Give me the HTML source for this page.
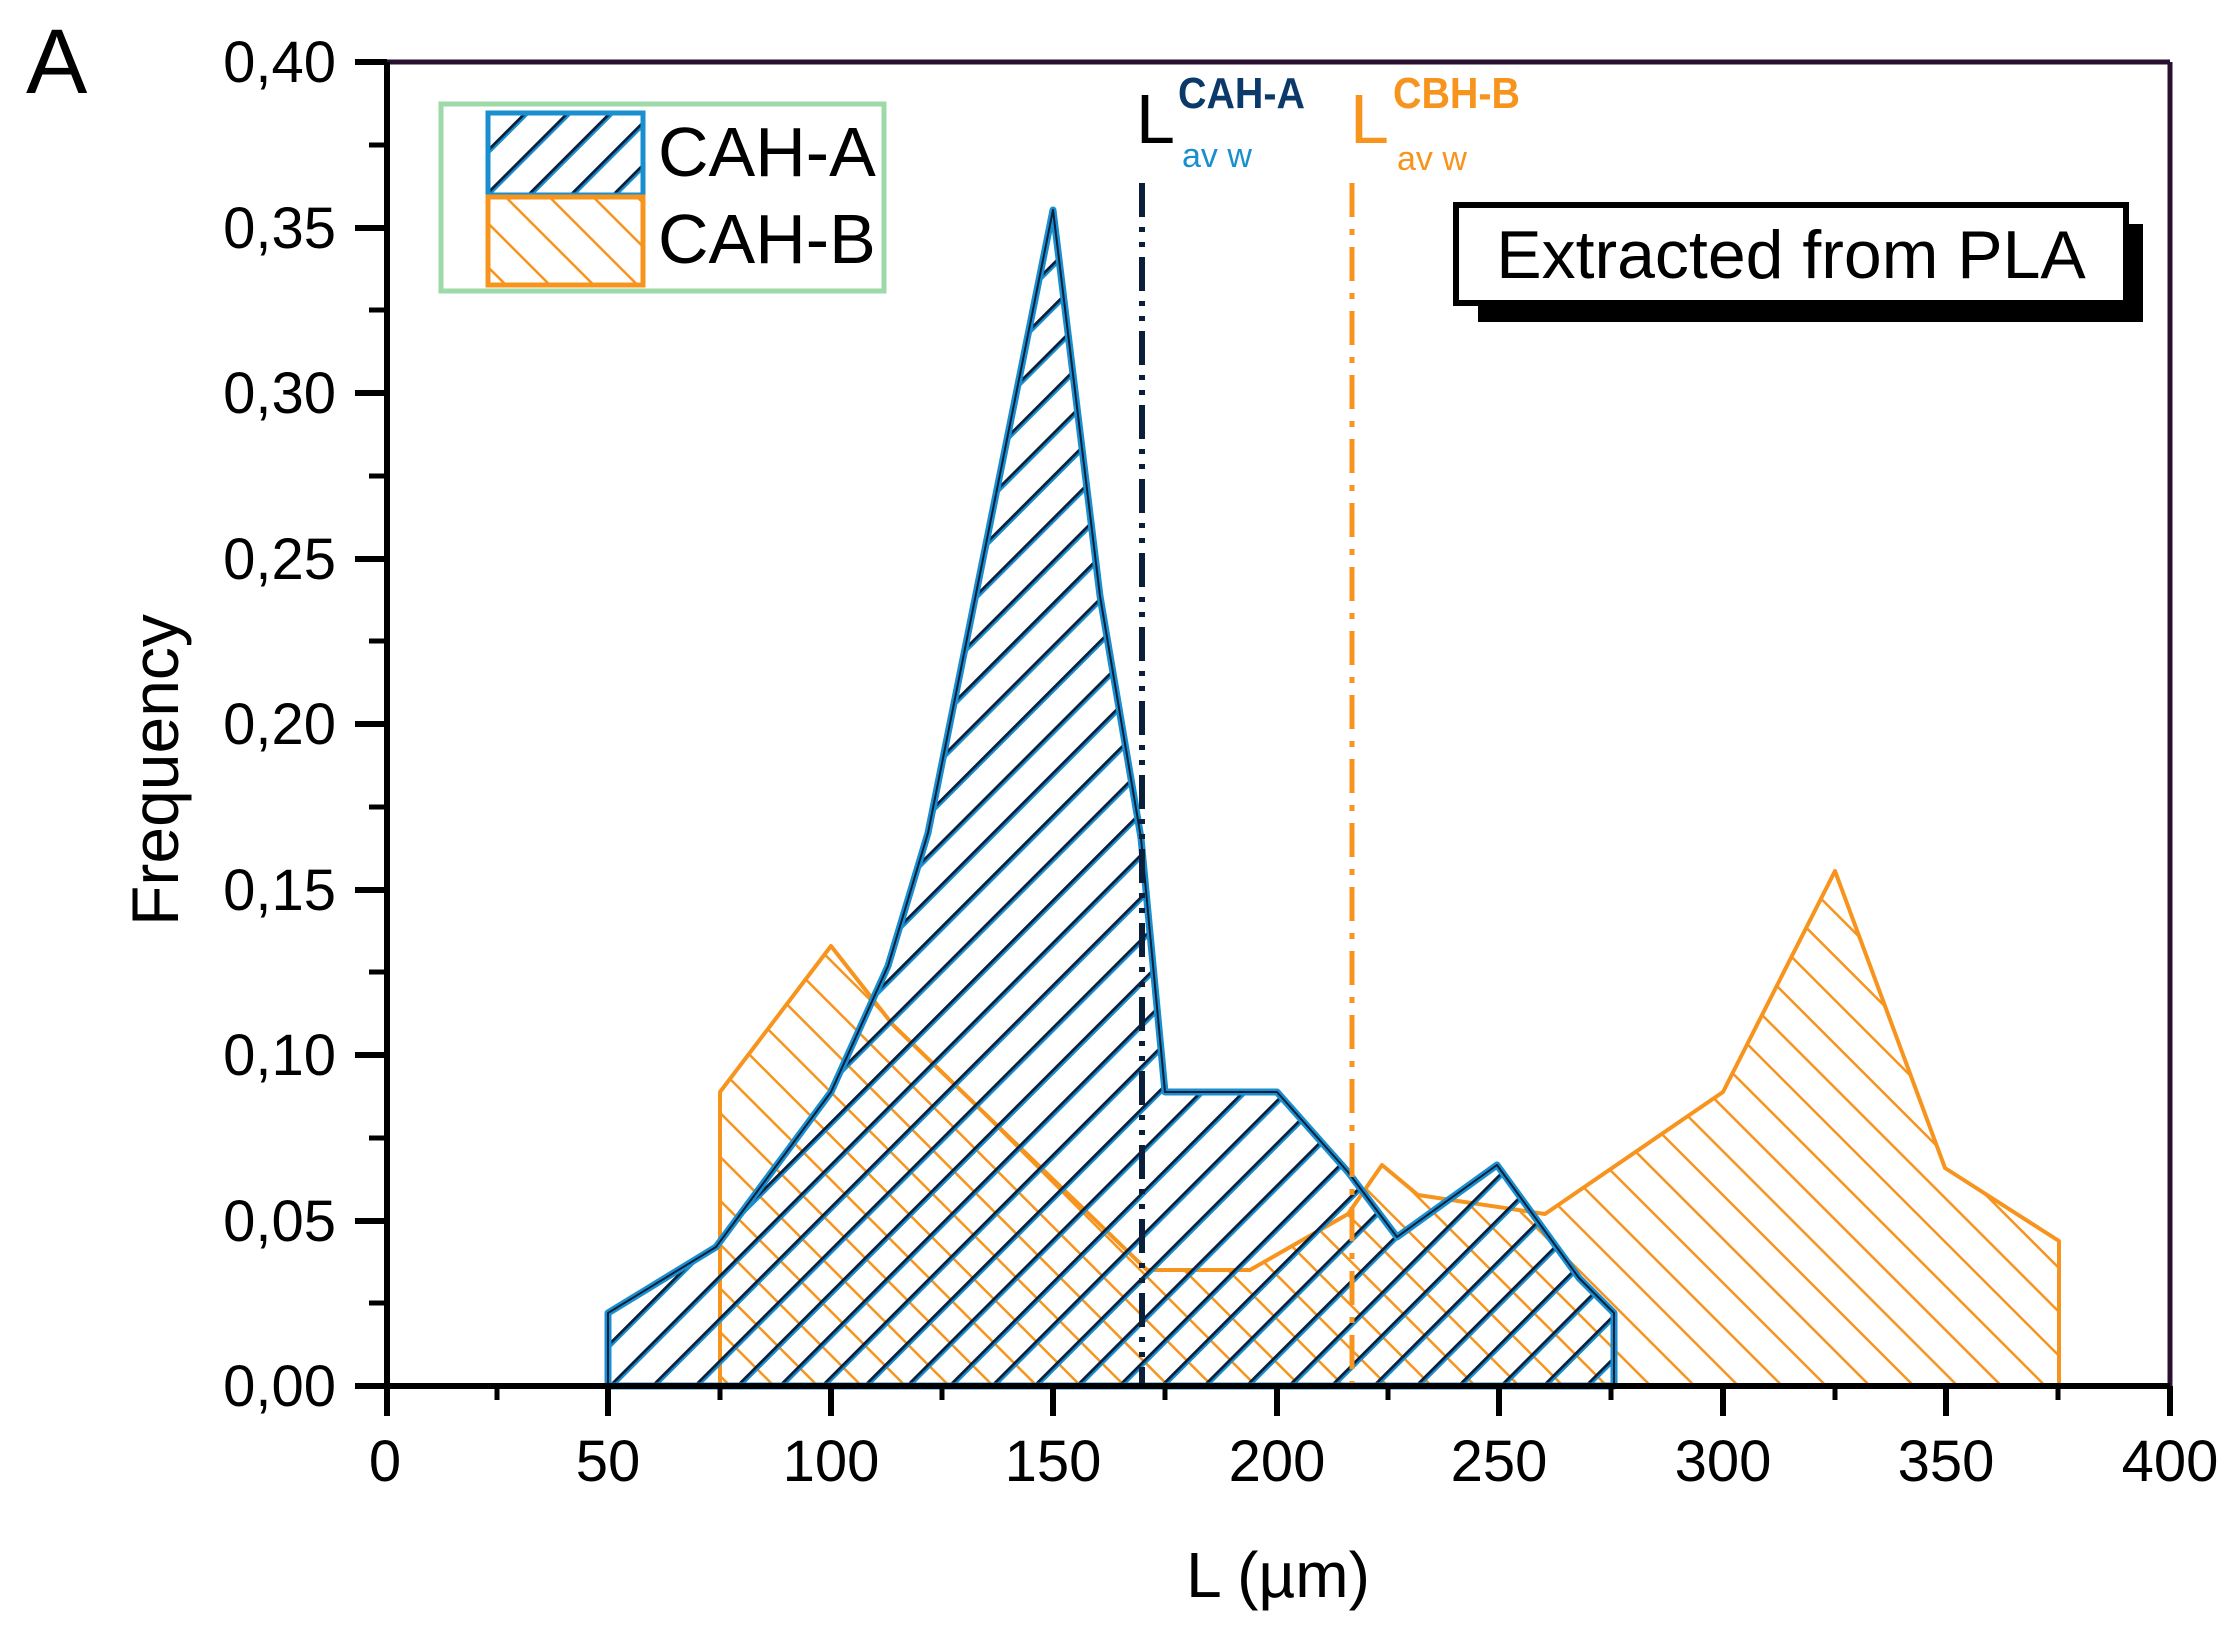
<!DOCTYPE html>
<html><head><meta charset="utf-8">
<style>html,body{margin:0;padding:0;background:#fff}svg{display:block}</style>
</head><body>
<svg width="2234" height="1642" viewBox="0 0 2234 1642" xmlns="http://www.w3.org/2000/svg" font-family="Liberation Sans, Arial, sans-serif">
<defs>
<pattern id="hb" patternUnits="userSpaceOnUse" width="30" height="30" patternTransform="rotate(45)">
<line x1="0" y1="0" x2="0" y2="30" stroke="#1a8fd0" stroke-width="10"/>
<line x1="0" y1="0" x2="0" y2="30" stroke="#0b1f3a" stroke-width="5.5"/>
</pattern>
<pattern id="ho" patternUnits="userSpaceOnUse" width="31" height="31" patternTransform="rotate(-45)">
<line x1="0" y1="0" x2="0" y2="31" stroke="#f7941d" stroke-width="5"/>
</pattern>
</defs>

<polygon fill="url(#ho)" stroke="#f7941d" stroke-width="4" stroke-linejoin="round"
points="720,1386 720,1092 831,946 893,1025 1147,1270 1250,1270 1348,1214 1382,1165 1418,1195 1545,1214 1723,1092 1835,871 1945,1168 2059,1241 2059,1386"/>

<polygon fill="url(#hb)" stroke="#1a8fd0" stroke-width="7" stroke-linejoin="round"
points="608,1386 608,1313 716,1247 831,1092 888,966 928,833 1053,210 1100,596 1141,838 1165,1092 1277,1092 1348,1172 1397,1237 1497,1165 1579,1278 1614,1313 1614,1386"/>
<polygon fill="none" stroke="#0b1f3a" stroke-width="2" stroke-linejoin="round"
points="608,1386 608,1313 716,1247 831,1092 888,966 928,833 1053,210 1100,596 1141,838 1165,1092 1277,1092 1348,1172 1397,1237 1497,1165 1579,1278 1614,1313 1614,1386"/>

<line x1="1142" y1="183" x2="1142" y2="1386" stroke="#0b1f3a" stroke-width="6" stroke-dasharray="34,10,5,10,5,10"/>
<line x1="1352" y1="183" x2="1352" y2="1386" stroke="#f7941d" stroke-width="5" stroke-dasharray="34,12,6,12"/>

<text x="1136" y="143" font-size="70" fill="#000">L</text>
<text x="1178" y="108" font-size="44" font-weight="bold" fill="#0b3a6a" textLength="127" lengthAdjust="spacingAndGlyphs">CAH-A</text>
<text x="1182" y="167" font-size="34" fill="#1a8fd0">av w</text>
<text x="1350" y="143" font-size="70" fill="#f7941d">L</text>
<text x="1393" y="108" font-size="44" font-weight="bold" fill="#f7941d" textLength="127" lengthAdjust="spacingAndGlyphs">CBH-B</text>
<text x="1397" y="170" font-size="34" fill="#f7941d">av w</text>

<line x1="385" y1="62" x2="2170" y2="62" stroke="#2a1030" stroke-width="5"/>
<line x1="2170" y1="62" x2="2170" y2="1386" stroke="#2a1030" stroke-width="5"/>
<line x1="387" y1="62" x2="387" y2="1386" stroke="#000" stroke-width="6"/>
<line x1="355" y1="1386" x2="2170" y2="1386" stroke="#000" stroke-width="6"/>

<g stroke="#000" stroke-width="6">
<line x1="355" y1="62" x2="387" y2="62"/>
<line x1="355" y1="228" x2="387" y2="228"/>
<line x1="355" y1="393" x2="387" y2="393"/>
<line x1="355" y1="559" x2="387" y2="559"/>
<line x1="355" y1="724" x2="387" y2="724"/>
<line x1="355" y1="890" x2="387" y2="890"/>
<line x1="355" y1="1055" x2="387" y2="1055"/>
<line x1="355" y1="1221" x2="387" y2="1221"/>
</g>
<g stroke="#000" stroke-width="5">
<line x1="369" y1="145" x2="387" y2="145"/>
<line x1="369" y1="310" x2="387" y2="310"/>
<line x1="369" y1="476" x2="387" y2="476"/>
<line x1="369" y1="641" x2="387" y2="641"/>
<line x1="369" y1="807" x2="387" y2="807"/>
<line x1="369" y1="972" x2="387" y2="972"/>
<line x1="369" y1="1138" x2="387" y2="1138"/>
<line x1="369" y1="1303" x2="387" y2="1303"/>
</g>
<g font-size="58" text-anchor="end" fill="#000">
<text x="336" y="82">0,40</text>
<text x="336" y="248">0,35</text>
<text x="336" y="413">0,30</text>
<text x="336" y="579">0,25</text>
<text x="336" y="744">0,20</text>
<text x="336" y="910">0,15</text>
<text x="336" y="1075">0,10</text>
<text x="336" y="1241">0,05</text>
<text x="336" y="1406">0,00</text>
</g>

<g stroke="#000" stroke-width="6">
<line x1="387" y1="1386" x2="387" y2="1416"/>
<line x1="608" y1="1386" x2="608" y2="1416"/>
<line x1="831" y1="1386" x2="831" y2="1416"/>
<line x1="1053" y1="1386" x2="1053" y2="1416"/>
<line x1="1277" y1="1386" x2="1277" y2="1416"/>
<line x1="1499" y1="1386" x2="1499" y2="1416"/>
<line x1="1723" y1="1386" x2="1723" y2="1416"/>
<line x1="1946" y1="1386" x2="1946" y2="1416"/>
<line x1="2170" y1="1386" x2="2170" y2="1416"/>
</g>
<g stroke="#000" stroke-width="5">
<line x1="497" y1="1386" x2="497" y2="1400"/>
<line x1="720" y1="1386" x2="720" y2="1400"/>
<line x1="942" y1="1386" x2="942" y2="1400"/>
<line x1="1165" y1="1386" x2="1165" y2="1400"/>
<line x1="1388" y1="1386" x2="1388" y2="1400"/>
<line x1="1611" y1="1386" x2="1611" y2="1400"/>
<line x1="1835" y1="1386" x2="1835" y2="1400"/>
<line x1="2058" y1="1386" x2="2058" y2="1400"/>
</g>
<g font-size="58" text-anchor="middle" fill="#000">
<text x="385" y="1481">0</text>
<text x="608" y="1481">50</text>
<text x="831" y="1481">100</text>
<text x="1053" y="1481">150</text>
<text x="1277" y="1481">200</text>
<text x="1499" y="1481">250</text>
<text x="1723" y="1481">300</text>
<text x="1946" y="1481">350</text>
<text x="2170" y="1481">400</text>
</g>

<text x="1278" y="1597" font-size="64" text-anchor="middle" fill="#000">L (µm)</text>
<text transform="translate(178,770) rotate(-90)" font-size="66" text-anchor="middle" fill="#000">Frequency</text>
<text x="26" y="93" font-size="92" fill="#000">A</text>

<rect x="441" y="104" width="443" height="187" fill="#fff" stroke="#9ed9a8" stroke-width="5"/>
<rect x="488" y="113" width="155" height="82" fill="url(#hb)" stroke="#1a8fd0" stroke-width="5"/>
<rect x="488" y="197" width="155" height="88" fill="url(#ho)" stroke="#f7941d" stroke-width="5"/>
<text x="658" y="176" font-size="70" fill="#000">CAH-A</text>
<text x="658" y="263" font-size="70" fill="#000">CAH-B</text>

<rect x="1478" y="224" width="665" height="98" fill="#000"/>
<rect x="1456" y="205" width="670" height="98" fill="#fff" stroke="#000" stroke-width="6"/>
<text x="1791" y="278" font-size="68" text-anchor="middle" fill="#000">Extracted from PLA</text>
</svg>
</body></html>
